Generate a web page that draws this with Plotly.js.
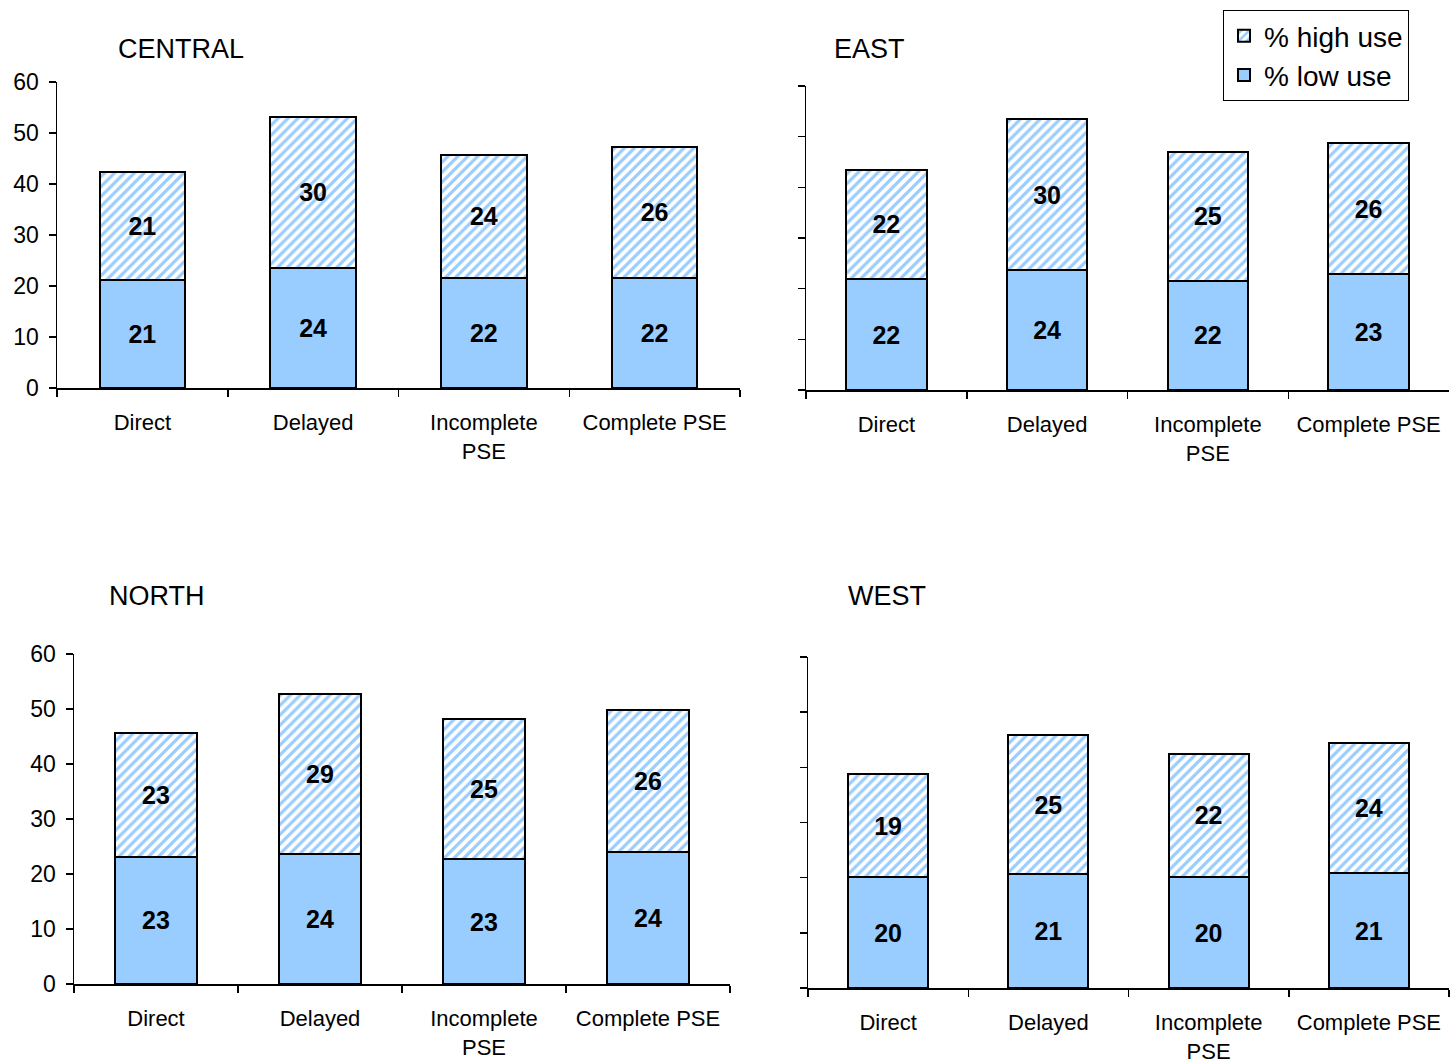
<!DOCTYPE html>
<html>
<head>
<meta charset="utf-8">
<script src="https://cdn.plot.ly/plotly-3.0.1.min.js"></script>
<style>html,body{margin:0;padding:0;background:#fff;}#chart{width:1450px;height:1064px;}</style>
</head>
<body>
<div id="chart"></div>
<script>
const categories = ["Direct", "Delayed", "Incomplete<br>PSE", "Complete PSE"];
const regions = ["CENTRAL", "EAST", "NORTH", "WEST"];
const centralLow = [21.2, 23.6, 21.6, 21.6];
const centralHigh = [21.2, 29.6, 24.1, 25.7];
const eastLow = [21.9, 23.6, 21.6, 22.9];
const eastHigh = [21.6, 29.8, 25.3, 25.8];
const northLow = [23.1, 23.6, 22.7, 24.0];
const northHigh = [22.6, 29.1, 25.4, 25.8];
const westLow = [20.1, 20.6, 20.1, 20.8];
const westHigh = [18.7, 25.3, 22.4, 23.6];
const yTicks = [0, 10, 20, 30, 40, 50, 60];
const seriesNames = ["% low use", "% high use"];

const FONT = "Liberation Sans, Arial, sans-serif";
const BLUE = "#99CCFF";
const lows = [centralLow, eastLow, northLow, westLow];
const highs = [centralHigh, eastHigh, northHigh, westHigh];
const axSuffix = ["", "2", "3", "4"];

const traces = [];
for (let i = 0; i < 4; i++) {
  const common = {
    type: "bar", x: categories,
    xaxis: "x" + axSuffix[i], yaxis: "y" + axSuffix[i],
    texttemplate: "%{y:.0f}", textposition: "inside", insidetextanchor: "middle",
    textfont: {family: FONT, size: 25, color: "#000", weight: "bold"},
    constraintext: "none", hoverinfo: "skip"
  };
  traces.push(Object.assign({}, common, {
    y: lows[i], name: seriesNames[0], showlegend: i === 0, legendgroup: "low",
    marker: {color: BLUE, line: {color: "#000", width: 2}}
  }));
  traces.push(Object.assign({}, common, {
    y: highs[i], name: seriesNames[1], showlegend: i === 0, legendgroup: "high",
    marker: {color: BLUE, line: {color: "#000", width: 2},
      pattern: {shape: "/", fgcolor: BLUE, bgcolor: "#ffffff", size: 7, solidity: 0.45, fillmode: "replace"}}
  }));
}

function xax(domain, anchor) {
  return {domain: domain, anchor: anchor, showline: true, linecolor: "#000", linewidth: 1.5,
    ticks: "outside", tickson: "boundaries", ticklen: 7, tickcolor: "#000", tickwidth: 1.5,
    showgrid: false, zeroline: false, ticklabelstandoff: 14,
    tickfont: {family: FONT, size: 22, color: "#000"}, fixedrange: true};
}
function yax(domain, anchor, labels) {
  return {domain: domain, anchor: anchor, range: [0, 60], tickvals: yTicks, showline: true, linecolor: "#000", linewidth: 1.5,
    ticks: "outside", ticklen: 7, tickcolor: "#000", tickwidth: 1.5, showgrid: false, zeroline: false,
    showticklabels: labels, ticklabelstandoff: 5,
    tickfont: {family: FONT, size: 23, color: "#000"}, fixedrange: true};
}

const W = 1450, H = 1064;
const px = v => v / W, py = v => 1 - v / H;

const layout = {
  width: W, height: H, margin: {l: 0, r: 0, t: 0, b: 0},
  paper_bgcolor: "#fff", plot_bgcolor: "rgba(0,0,0,0)",
  barmode: "stack", bargap: 0.5, font: {family: FONT, color: "#000"},
  xaxis: xax([px(57), px(740)], "y"), yaxis: yax([py(388), py(82)], "x", true),
  xaxis2: xax([px(806), px(1449)], "y2"), yaxis2: yax([py(390), py(86)], "x2", false),
  xaxis3: xax([px(74), px(730)], "y3"), yaxis3: yax([py(984), py(654)], "x3", true),
  xaxis4: xax([px(808), px(1449)], "y4"), yaxis4: yax([py(988), py(657)], "x4", false),
  legend: {x: px(1223), y: py(10), xanchor: "left", yanchor: "top", traceorder: "reversed",
    bordercolor: "#000", borderwidth: 1, bgcolor: "#fff",
    font: {family: FONT, size: 28, color: "#000"}, itemwidth: 30, tracegroupgap: 10},
  annotations: [
    {text: regions[0], x: px(116), y: py(49)},
    {text: regions[1], x: px(832), y: py(49)},
    {text: regions[2], x: px(107), y: py(596)},
    {text: regions[3], x: px(846), y: py(596)}
  ].map(a => Object.assign(a, {xref: "paper", yref: "paper", xanchor: "left", yanchor: "middle",
    showarrow: false, font: {family: FONT, size: 27, color: "#000"}}))
};

Plotly.newPlot("chart", traces, layout, {displayModeBar: false, staticPlot: true});
</script>
</body>
</html>
